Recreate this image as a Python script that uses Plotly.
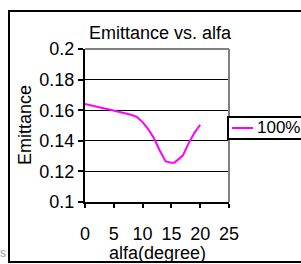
import plotly.graph_objects as go

alfa = [0, 1, 2, 3, 4, 5, 6, 7, 8, 9, 10, 11, 12, 13, 14, 15, 15.5, 16, 17, 18, 19, 20]
emittance = [0.164, 0.1630, 0.1622, 0.1614, 0.1606, 0.1598, 0.1589, 0.1580, 0.1570, 0.1556,
             0.1522, 0.1475, 0.1415, 0.1335, 0.1265, 0.1256, 0.1256, 0.1272, 0.1305, 0.1385,
             0.1452, 0.1505]
series_name = "100%"
x_ticks = [0, 5, 10, 15, 20, 25]
y_ticks = [0.1, 0.12, 0.14, 0.16, 0.18, 0.2]
y_tick_text = ["0.1", "0.12", "0.14", "0.16", "0.18", "0.2"]

W, H = 301, 264
L, R, T, B = 85, 229, 49, 202

def px(x):
    return (x - L) / (R - L)

def py(y):
    return (B - y) / (B - T)

FONT = "Liberation Sans, Arial, sans-serif"
FS = 18
LINE_COLOR = "#FF00FF"

fig = go.Figure()
fig.add_trace(go.Scatter(x=alfa, y=emittance, mode="lines", name=series_name,
                         line=dict(color=LINE_COLOR, width=2), showlegend=False))

fig.update_layout(
    width=W, height=H,
    margin=dict(l=L, r=W - R, t=T, b=H - B, autoexpand=False),
    paper_bgcolor="white", plot_bgcolor="white",
    font=dict(family=FONT, size=FS, color="black"),
    title=dict(text="Emittance vs. alfa", x=px(160), xref="paper", xanchor="center",
               y=1 - 33 / H, yref="container", yanchor="middle",
               font=dict(family=FONT, size=FS, color="black")),
    showlegend=False,
    xaxis=dict(range=[0, 25], tickvals=x_ticks, showgrid=False, zeroline=False,
               showline=True, linecolor="black", linewidth=2,
               ticks="outside", ticklen=4, tickwidth=2, tickcolor="black",
               ticklabelstandoff=10, tickfont=dict(size=FS), fixedrange=True,
               automargin=False),
    yaxis=dict(range=[0.1, 0.2], tickvals=y_ticks, ticktext=y_tick_text,
               showgrid=True, gridcolor="black", gridwidth=1, zeroline=False,
               showline=True, linecolor="black", linewidth=2,
               ticks="outside", ticklen=5, tickwidth=2, tickcolor="black",
               tickfont=dict(size=FS), fixedrange=True, automargin=False),
    annotations=[
        dict(text="Emittance", x=px(25), y=py(125), xref="paper", yref="paper",
             textangle=-90, showarrow=False, font=dict(size=FS),
             xanchor="center", yanchor="middle"),
        dict(text="alfa(degree)", x=px(157), y=py(253), xref="paper", yref="paper",
             showarrow=False, font=dict(size=FS), xanchor="center", yanchor="middle"),
        dict(text=series_name, x=px(255), y=py(128), xref="paper", yref="paper",
             showarrow=False, font=dict(size=17), xanchor="left", yanchor="middle"),
        dict(text="s", x=px(3), y=py(253), xref="paper", yref="paper",
             showarrow=False, font=dict(size=12, color="#999999"),
             xanchor="center", yanchor="middle"),
    ],
    shapes=[
        # outer chart border
        dict(type="rect", xref="paper", yref="paper", x0=px(9), x1=px(320),
             y0=py(262), y1=py(11), line=dict(color="black", width=2), layer="below"),
        # gray plot-area border (top and right)
        dict(type="line", xref="paper", yref="paper", x0=0, x1=1, y0=1, y1=1,
             line=dict(color="#808080", width=2)),
        dict(type="line", xref="paper", yref="paper", x0=1, x1=1, y0=0, y1=1,
             line=dict(color="#808080", width=2)),
        # legend box and sample line
        dict(type="rect", xref="paper", yref="paper", x0=px(228), x1=px(320),
             y0=py(139), y1=py(117), line=dict(color="black", width=2),
             fillcolor="white", layer="above"),
        dict(type="line", xref="paper", yref="paper", x0=px(232), x1=px(253),
             y0=py(128), y1=py(128), line=dict(color=LINE_COLOR, width=2)),
    ],
)

fig.write_html("out.html", config={"displayModeBar": False},
               post_script="document.body.style.margin='0';document.body.style.overflow='hidden';")
